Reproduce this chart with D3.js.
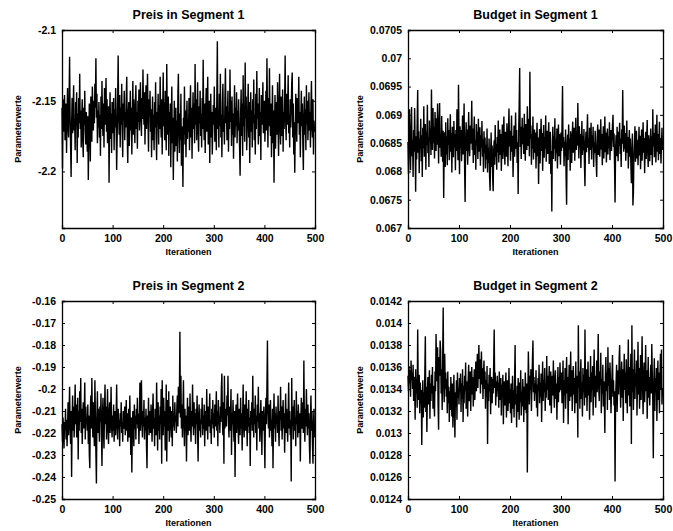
<!DOCTYPE html>
<html>
<head>
<meta charset="utf-8">
<script src="https://cdn.jsdelivr.net/npm/d3@7"></script>
<style>
  body { margin: 0; background: #fff; }
  svg text { font-family: "Liberation Sans", Arial, sans-serif; fill: #000; }
</style>
</head>
<body>
<script>
// MCMC traces, 500 iterations each
var preis1 = [
-2.155,-2.198,-2.149,-2.172,-2.160,-2.146,-2.178,-2.165,-2.152,-2.187,-2.158,-2.141,-2.169,-2.176,-2.150,-2.119,-2.161,-2.182,-2.204,-2.167,-2.148,-2.173,-2.156,-2.139,-2.171,
-2.163,-2.185,-2.151,-2.168,-2.144,-2.194,-2.159,-2.176,-2.148,-2.166,-2.131,-2.170,-2.157,-2.183,-2.162,-2.149,-2.178,-2.190,-2.155,-2.167,-2.143,-2.172,-2.181,-2.158,-2.165,
-2.186,-2.161,-2.206,-2.174,-2.152,-2.168,-2.193,-2.147,-2.163,-2.179,-2.140,-2.158,-2.171,-2.150,-2.166,-2.138,-2.155,-2.120,-2.162,-2.145,-2.180,-2.157,-2.169,-2.151,-2.176,
-2.160,-2.189,-2.147,-2.170,-2.136,-2.164,-2.175,-2.152,-2.183,-2.141,-2.167,-2.158,-2.134,-2.172,-2.149,-2.180,-2.163,-2.154,-2.208,-2.166,-2.144,-2.177,-2.159,-2.187,-2.151,
-2.162,-2.173,-2.148,-2.185,-2.156,-2.169,-2.141,-2.165,-2.199,-2.177,-2.150,-2.118,-2.160,-2.174,-2.146,-2.183,-2.155,-2.167,-2.138,-2.171,-2.190,-2.152,-2.164,-2.143,-2.178,
-2.158,-2.169,-2.147,-2.133,-2.176,-2.194,-2.160,-2.151,-2.182,-2.166,-2.143,-2.171,-2.155,-2.188,-2.162,-2.136,-2.174,-2.149,-2.167,-2.180,-2.153,-2.139,-2.170,-2.158,-2.184,
-2.150,-2.165,-2.142,-2.171,-2.156,-2.137,-2.160,-2.175,-2.148,-2.163,-2.128,-2.154,-2.167,-2.144,-2.181,-2.158,-2.139,-2.170,-2.152,-2.131,-2.164,-2.186,-2.149,-2.161,-2.143,
-2.172,-2.156,-2.190,-2.163,-2.147,-2.178,-2.160,-2.185,-2.151,-2.169,-2.137,-2.174,-2.192,-2.158,-2.166,-2.145,-2.181,-2.153,-2.170,-2.133,-2.162,-2.176,-2.149,-2.188,-2.159,
-2.130,-2.168,-2.151,-2.178,-2.143,-2.163,-2.185,-2.124,-2.160,-2.174,-2.147,-2.189,-2.158,-2.171,-2.152,-2.197,-2.166,-2.140,-2.180,-2.162,-2.206,-2.175,-2.150,-2.186,-2.168,
-2.155,-2.182,-2.164,-2.193,-2.147,-2.131,-2.172,-2.187,-2.159,-2.178,-2.145,-2.196,-2.168,-2.183,-2.211,-2.162,-2.174,-2.140,-2.181,-2.157,-2.190,-2.166,-2.150,-2.177,-2.163,
-2.172,-2.148,-2.185,-2.160,-2.139,-2.176,-2.155,-2.191,-2.163,-2.144,-2.170,-2.152,-2.180,-2.124,-2.167,-2.149,-2.178,-2.158,-2.137,-2.173,-2.186,-2.154,-2.166,-2.143,-2.175,
-2.159,-2.183,-2.148,-2.170,-2.121,-2.163,-2.178,-2.152,-2.187,-2.160,-2.141,-2.172,-2.155,-2.133,-2.181,-2.166,-2.150,-2.194,-2.162,-2.145,-2.176,-2.158,-2.188,-2.169,-2.153,
-2.167,-2.140,-2.179,-2.155,-2.162,-2.185,-2.148,-2.108,-2.170,-2.157,-2.183,-2.145,-2.168,-2.131,-2.176,-2.160,-2.190,-2.152,-2.138,-2.172,-2.164,-2.181,-2.149,-2.127,-2.166,
-2.154,-2.178,-2.161,-2.143,-2.186,-2.158,-2.170,-2.128,-2.165,-2.150,-2.182,-2.147,-2.174,-2.159,-2.191,-2.163,-2.139,-2.176,-2.155,-2.168,-2.144,-2.180,-2.157,-2.171,-2.149,
-2.166,-2.184,-2.203,-2.160,-2.142,-2.175,-2.152,-2.189,-2.132,-2.168,-2.155,-2.179,-2.123,-2.163,-2.147,-2.185,-2.170,-2.158,-2.138,-2.176,-2.151,-2.194,-2.165,-2.144,-2.172,
-2.157,-2.183,-2.149,-2.166,-2.135,-2.178,-2.160,-2.188,-2.145,-2.170,-2.129,-2.163,-2.152,-2.181,-2.168,-2.141,-2.175,-2.158,-2.192,-2.146,-2.167,-2.154,-2.137,-2.173,-2.162,
-2.150,-2.179,-2.165,-2.143,-2.171,-2.120,-2.158,-2.183,-2.148,-2.168,-2.127,-2.161,-2.175,-2.152,-2.190,-2.166,-2.139,-2.180,-2.157,-2.208,-2.170,-2.146,-2.184,-2.162,-2.151,
-2.174,-2.137,-2.166,-2.189,-2.153,-2.131,-2.168,-2.181,-2.147,-2.162,-2.175,-2.142,-2.186,-2.158,-2.170,-2.150,-2.118,-2.163,-2.178,-2.145,-2.167,-2.155,-2.132,-2.173,-2.160,
-2.183,-2.149,-2.169,-2.157,-2.138,-2.130,-2.176,-2.152,-2.188,-2.165,-2.201,-2.171,-2.145,-2.160,-2.179,-2.148,-2.166,-2.154,-2.133,-2.174,-2.158,-2.190,-2.163,-2.143,-2.168,
-2.152,-2.181,-2.199,-2.161,-2.147,-2.174,-2.156,-2.185,-2.139,-2.167,-2.150,-2.178,-2.162,-2.144,-2.171,-2.158,-2.183,-2.153,-2.136,-2.169,-2.176,-2.149,-2.188,-2.164,-2.172
];

var budget1 = [
0.06852,0.06795,0.06881,0.06910,0.06838,0.06802,0.06869,0.06914,0.06827,0.06856,0.06790,0.06873,0.06835,0.06912,0.06848,0.06764,0.06862,0.06821,0.06887,0.06944,0.06833,0.06871,0.06797,0.06858,0.06840,
0.06893,0.06818,0.06864,0.06790,0.06877,0.06841,0.06915,0.06826,0.06859,0.06884,0.06803,0.06870,0.06847,0.06918,0.06832,0.06861,0.06808,0.06890,0.06853,0.06876,0.06829,0.06945,0.06866,0.06838,0.06912,
0.06850,0.06879,0.06823,0.06905,0.06861,0.06836,0.06894,0.06847,0.06920,0.06871,0.06814,0.06883,0.06921,0.06842,0.06866,0.06826,0.06898,0.06855,0.06817,0.06872,0.06753,0.06845,0.06869,0.06808,0.06887,
0.06830,0.06862,0.06811,0.06894,0.06847,0.06873,0.06820,0.06856,0.06901,0.06835,0.06868,0.06798,0.06879,0.06852,0.06825,0.06889,0.06843,0.06866,0.06802,0.06873,0.06836,0.06910,0.06857,0.06820,0.06953,
0.06862,0.06795,0.06880,0.06841,0.06873,0.06818,0.06855,0.06899,0.06830,0.06866,0.06920,0.06808,0.06746,0.06851,0.06887,0.06836,0.06874,0.06812,0.06859,0.06905,0.06843,0.06827,0.06881,0.06849,0.06868,
0.06925,0.06838,0.06876,0.06815,0.06862,0.06897,0.06829,0.06855,0.06803,0.06884,0.06846,0.06870,0.06822,0.06893,0.06851,0.06835,0.06878,0.06810,0.06864,0.06842,0.06889,0.06826,0.06857,0.06799,0.06871,
0.06833,0.06860,0.06805,0.06847,0.06821,0.06876,0.06798,0.06842,0.06815,0.06858,0.06790,0.06766,0.06830,0.06869,0.06808,0.06846,0.06788,0.06765,0.06837,0.06855,0.06812,0.06882,0.06826,0.06849,0.06803,
0.06861,0.06834,0.06890,0.06816,0.06852,0.06874,0.06829,0.06866,0.06801,0.06845,0.06883,0.06822,0.06859,0.06897,0.06838,0.06812,0.06870,0.06848,0.06826,0.06885,0.06853,0.06809,0.06868,0.06911,0.06844,
0.06872,0.06819,0.06856,0.06899,0.06835,0.06863,0.06790,0.06847,0.06881,0.06826,0.06858,0.06904,0.06840,0.06873,0.06815,0.06852,0.06760,0.06868,0.06917,0.06983,0.06843,0.06879,0.06822,0.06861,0.06895,
0.06848,0.06877,0.06831,0.06902,0.06856,0.06819,0.06884,0.06862,0.06838,0.06915,0.06870,0.06845,0.06893,0.06827,0.06976,0.06858,0.06881,0.06812,0.06866,0.06840,0.06897,0.06821,0.06855,0.06874,0.06833,
0.06869,0.06805,0.06851,0.06886,0.06827,0.06860,0.06778,0.06842,0.06875,0.06814,0.06856,0.06893,0.06836,0.06868,0.06801,0.06849,0.06882,0.06824,0.06861,0.06840,0.06899,0.06817,0.06853,0.06872,0.06831,
0.06858,0.06887,0.06813,0.06845,0.06870,0.06796,0.06836,0.06729,0.06851,0.06879,0.06822,0.06863,0.06840,0.06894,0.06818,0.06857,0.06832,0.06876,0.06805,0.06848,0.06883,0.06827,0.06866,0.06845,0.06812,
0.06869,0.06836,0.06880,0.06951,0.06842,0.06861,0.06809,0.06853,0.06827,0.06874,0.06790,0.06741,0.06848,0.06865,0.06820,0.06883,0.06839,0.06858,0.06801,0.06871,0.06846,0.06815,0.06862,0.06888,0.06833,
0.06850,0.06877,0.06819,0.06862,0.06895,0.06838,0.06871,0.06846,0.06921,0.06857,0.06823,0.06880,0.06841,0.06866,0.06806,0.06852,0.06889,0.06829,0.06863,0.06837,0.06875,0.06812,0.06774,0.06849,0.06870,
0.06834,0.06868,0.06901,0.06842,0.06859,0.06813,0.06877,0.06838,0.06855,0.06886,0.06821,0.06864,0.06843,0.06879,0.06808,0.06851,0.06832,0.06872,0.06846,0.06817,0.06790,0.06861,0.06883,0.06829,0.06857,
0.06874,0.06826,0.06853,0.06892,0.06839,0.06866,0.06811,0.06847,0.06880,0.06823,0.06858,0.06897,0.06834,0.06869,0.06816,0.06852,0.06876,0.06830,0.06862,0.06841,0.06887,0.06820,0.06855,0.06873,0.06836,
0.06859,0.06882,0.06900,0.06843,0.06867,0.06812,0.06745,0.06838,0.06864,0.06827,0.06879,0.06851,0.06818,0.06870,0.06845,0.06886,0.06831,0.06858,0.06808,0.06874,0.06849,0.06944,0.06862,0.06835,0.06881,
0.06840,0.06868,0.06819,0.06855,0.06890,0.06833,0.06861,0.06805,0.06847,0.06873,0.06826,0.06858,0.06812,0.06779,0.06836,0.06867,0.06740,0.06763,0.06829,0.06851,0.06880,0.06817,0.06844,0.06872,0.06823,
0.06856,0.06811,0.06846,0.06879,0.06828,0.06863,0.06804,0.06840,0.06874,0.06819,0.06852,0.06887,0.06833,0.06859,0.06797,0.06845,0.06870,0.06822,0.06856,0.06891,0.06836,0.06808,0.06864,0.06843,0.06818,
0.06850,0.06876,0.06829,0.06862,0.06811,0.06910,0.06844,0.06868,0.06825,0.06857,0.06883,0.06816,0.06849,0.06900,0.06835,0.06866,0.06820,0.06853,0.06888,0.06831,0.06859,0.06814,0.06846,0.06877,0.06838
];

var preis2 = [
-0.216,-0.224,-0.213,-0.221,-0.227,-0.215,-0.219,-0.209,-0.223,-0.214,-0.226,-0.218,-0.206,-0.221,-0.212,-0.199,-0.217,-0.225,-0.210,-0.240,-0.214,-0.203,-0.219,-0.208,-0.222,
-0.211,-0.198,-0.216,-0.207,-0.222,-0.213,-0.204,-0.232,-0.210,-0.219,-0.201,-0.215,-0.195,-0.220,-0.209,-0.225,-0.213,-0.206,-0.218,-0.211,-0.197,-0.223,-0.208,-0.216,-0.214,
-0.219,-0.207,-0.225,-0.212,-0.230,-0.236,-0.210,-0.203,-0.218,-0.195,-0.214,-0.222,-0.206,-0.217,-0.226,-0.196,-0.211,-0.229,-0.243,-0.213,-0.201,-0.220,-0.209,-0.216,-0.224,
-0.208,-0.215,-0.202,-0.221,-0.235,-0.212,-0.204,-0.219,-0.227,-0.210,-0.198,-0.216,-0.208,-0.223,-0.213,-0.200,-0.218,-0.225,-0.211,-0.206,-0.220,-0.214,-0.199,-0.217,-0.222,
-0.212,-0.219,-0.207,-0.224,-0.215,-0.210,-0.221,-0.213,-0.198,-0.216,-0.223,-0.209,-0.218,-0.214,-0.226,-0.211,-0.217,-0.206,-0.220,-0.215,-0.224,-0.210,-0.218,-0.213,-0.208,
-0.221,-0.214,-0.205,-0.219,-0.211,-0.224,-0.216,-0.209,-0.222,-0.203,-0.217,-0.230,-0.213,-0.238,-0.220,-0.210,-0.215,-0.226,-0.207,-0.218,-0.212,-0.223,-0.209,-0.216,-0.204,
-0.218,-0.211,-0.225,-0.214,-0.197,-0.219,-0.208,-0.196,-0.215,-0.222,-0.210,-0.217,-0.205,-0.223,-0.213,-0.219,-0.209,-0.226,-0.236,-0.212,-0.218,-0.204,-0.221,-0.214,-0.210,
-0.220,-0.207,-0.216,-0.224,-0.211,-0.202,-0.218,-0.213,-0.226,-0.209,-0.215,-0.221,-0.197,-0.214,-0.228,-0.206,-0.219,-0.212,-0.223,-0.208,-0.216,-0.200,-0.234,-0.196,-0.213,
-0.221,-0.204,-0.217,-0.210,-0.228,-0.215,-0.198,-0.233,-0.212,-0.205,-0.219,-0.201,-0.224,-0.213,-0.208,-0.216,-0.222,-0.210,-0.226,-0.203,-0.217,-0.211,-0.219,-0.206,-0.215,
-0.212,-0.220,-0.208,-0.203,-0.217,-0.199,-0.211,-0.205,-0.174,-0.213,-0.194,-0.218,-0.207,-0.222,-0.210,-0.196,-0.215,-0.226,-0.209,-0.219,-0.212,-0.233,-0.216,-0.204,-0.221,
-0.213,-0.208,-0.219,-0.202,-0.215,-0.224,-0.210,-0.217,-0.198,-0.214,-0.221,-0.206,-0.218,-0.211,-0.225,-0.209,-0.216,-0.203,-0.220,-0.233,-0.212,-0.207,-0.219,-0.214,-0.222,
-0.209,-0.216,-0.204,-0.221,-0.212,-0.218,-0.207,-0.226,-0.213,-0.210,-0.219,-0.200,-0.215,-0.223,-0.208,-0.217,-0.212,-0.202,-0.220,-0.214,-0.225,-0.209,-0.216,-0.205,-0.218,
-0.211,-0.222,-0.207,-0.217,-0.213,-0.201,-0.219,-0.210,-0.226,-0.205,-0.216,-0.212,-0.220,-0.208,-0.215,-0.199,-0.193,-0.214,-0.221,-0.206,-0.234,-0.194,-0.218,-0.211,-0.209,
-0.217,-0.203,-0.212,-0.194,-0.215,-0.222,-0.208,-0.219,-0.213,-0.200,-0.230,-0.211,-0.216,-0.205,-0.218,-0.224,-0.210,-0.240,-0.214,-0.207,-0.220,-0.212,-0.202,-0.217,-0.225,
-0.209,-0.215,-0.221,-0.204,-0.218,-0.211,-0.228,-0.213,-0.198,-0.216,-0.222,-0.207,-0.214,-0.219,-0.201,-0.212,-0.226,-0.209,-0.217,-0.205,-0.220,-0.213,-0.235,-0.210,-0.216,
-0.206,-0.219,-0.194,-0.214,-0.222,-0.209,-0.216,-0.203,-0.220,-0.212,-0.228,-0.207,-0.215,-0.199,-0.218,-0.211,-0.224,-0.213,-0.205,-0.217,-0.230,-0.210,-0.219,-0.214,-0.208,
-0.221,-0.236,-0.213,-0.204,-0.216,-0.199,-0.178,-0.210,-0.218,-0.207,-0.222,-0.212,-0.205,-0.219,-0.214,-0.226,-0.209,-0.236,-0.215,-0.202,-0.218,-0.211,-0.224,-0.208,-0.216,
-0.212,-0.220,-0.203,-0.217,-0.226,-0.210,-0.214,-0.199,-0.219,-0.208,-0.223,-0.213,-0.205,-0.218,-0.211,-0.229,-0.215,-0.202,-0.220,-0.209,-0.216,-0.224,-0.212,-0.197,-0.218,
-0.210,-0.221,-0.214,-0.242,-0.195,-0.217,-0.208,-0.223,-0.212,-0.205,-0.219,-0.213,-0.226,-0.201,-0.216,-0.210,-0.222,-0.207,-0.215,-0.220,-0.211,-0.233,-0.214,-0.204,-0.218,
-0.212,-0.206,-0.220,-0.187,-0.215,-0.224,-0.209,-0.217,-0.200,-0.213,-0.221,-0.207,-0.218,-0.211,-0.226,-0.234,-0.214,-0.203,-0.219,-0.210,-0.225,-0.234,-0.216,-0.209,-0.222
];

var budget2 = [
0.01352,0.01338,0.01361,0.01345,0.01357,0.01333,0.01366,0.01348,0.01355,0.01340,0.01362,0.01329,0.01351,0.01344,0.01312,0.01358,0.01336,0.01349,0.01323,0.01394,0.01341,0.01330,0.01353,0.01318,0.01346,
0.01327,0.01339,0.01289,0.01332,0.01348,0.01314,0.01337,0.01323,0.01355,0.01388,0.01319,0.01342,0.01301,0.01334,0.01351,0.01326,0.01340,0.01357,0.01313,0.01345,0.01329,0.01353,0.01336,0.01360,0.01322,
0.01343,0.01331,0.01315,0.01356,0.01338,0.01390,0.01362,0.01347,0.01378,0.01325,0.01303,0.01369,0.01352,0.01384,0.01375,0.01336,0.01358,0.01321,0.01367,0.01414,0.01344,0.01328,0.01372,0.01340,0.01355,
0.01333,0.01349,0.01318,0.01356,0.01327,0.01342,0.01310,0.01338,0.01321,0.01351,0.01334,0.01315,0.01345,0.01305,0.01330,0.01353,0.01319,0.01296,0.01337,0.01324,0.01348,0.01312,0.01355,0.01332,0.01341,
0.01326,0.01350,0.01337,0.01354,0.01319,0.01345,0.01331,0.01358,0.01310,0.01343,0.01327,0.01352,0.01338,0.01364,0.01322,0.01347,0.01334,0.01315,0.01349,0.01362,0.01329,0.01341,0.01356,0.01320,0.01346,
0.01360,0.01335,0.01351,0.01324,0.01343,0.01358,0.01330,0.01347,0.01365,0.01338,0.01354,0.01372,0.01341,0.01361,0.01380,0.01349,0.01367,0.01336,0.01357,0.01374,0.01344,0.01359,0.01331,0.01352,0.01366,
0.01340,0.01356,0.01322,0.01348,0.01333,0.01361,0.01290,0.01345,0.01329,0.01353,0.01338,0.01359,0.01317,0.01344,0.01351,0.01327,0.01349,0.01336,0.01362,0.01394,0.01341,0.01355,0.01325,0.01347,0.01333,
0.01352,0.01338,0.01346,0.01323,0.01356,0.01341,0.01330,0.01350,0.01316,0.01344,0.01335,0.01353,0.01308,0.01339,0.01347,0.01325,0.01342,0.01355,0.01314,0.01337,0.01348,0.01320,0.01333,0.01359,0.01327,
0.01340,0.01318,0.01345,0.01309,0.01334,0.01352,0.01322,0.01339,0.01314,0.01348,0.01380,0.01326,0.01336,0.01305,0.01343,0.01319,0.01350,0.01331,0.01312,0.01346,0.01328,0.01357,0.01316,0.01338,0.01324,
0.01349,0.01333,0.01310,0.01342,0.01321,0.01355,0.01336,0.01318,0.01345,0.01264,0.01330,0.01374,0.01348,0.01326,0.01352,0.01339,0.01358,0.01320,0.01343,0.01366,0.01384,0.01337,0.01351,0.01329,0.01345,
0.01336,0.01357,0.01323,0.01344,0.01315,0.01350,0.01338,0.01362,0.01327,0.01346,0.01333,0.01354,0.01310,0.01341,0.01365,0.01329,0.01348,0.01337,0.01359,0.01320,0.01345,0.01332,0.01370,0.01339,0.01352,
0.01330,0.01347,0.01361,0.01325,0.01343,0.01356,0.01318,0.01340,0.01352,0.01334,0.01366,0.01339,0.01323,0.01349,0.01357,0.01331,0.01345,0.01312,0.01342,0.01360,0.01328,0.01351,0.01337,0.01364,0.01346,
0.01339,0.01355,0.01327,0.01343,0.01366,0.01309,0.01348,0.01334,0.01359,0.01322,0.01345,0.01369,0.01336,0.01351,0.01308,0.01340,0.01362,0.01329,0.01346,0.01374,0.01333,0.01357,0.01320,0.01344,0.01361,
0.01335,0.01350,0.01318,0.01343,0.01365,0.01327,0.01352,0.01338,0.01296,0.01398,0.01341,0.01356,0.01322,0.01349,0.01367,0.01331,0.01346,0.01315,0.01359,0.01337,0.01353,0.01325,0.01394,0.01344,0.01332,
0.01358,0.01320,0.01347,0.01365,0.01334,0.01351,0.01312,0.01343,0.01370,0.01328,0.01355,0.01339,0.01361,0.01316,0.01348,0.01376,0.01333,0.01352,0.01323,0.01345,0.01366,0.01337,0.01358,0.01390,0.01341,
0.01329,0.01356,0.01344,0.01373,0.01318,0.01349,0.01336,0.01362,0.01324,0.01347,0.01331,0.01300,0.01352,0.01369,0.01338,0.01355,0.01321,0.01378,0.01343,0.01359,0.01330,0.01364,0.01347,0.01318,0.01336,
0.01352,0.01371,0.01333,0.01348,0.01325,0.01338,0.01256,0.01330,0.01346,0.01362,0.01319,0.01341,0.01357,0.01335,0.01368,0.01380,0.01344,0.01323,0.01350,0.01365,0.01332,0.01358,0.01311,0.01347,0.01372,
0.01339,0.01355,0.01327,0.01367,0.01343,0.01318,0.01351,0.01385,0.01334,0.01360,0.01324,0.01346,0.01372,0.01290,0.01398,0.01337,0.01358,0.01321,0.01349,0.01376,0.01331,0.01354,0.01343,0.01366,0.01316,
0.01348,0.01383,0.01335,0.01359,0.01322,0.01345,0.01371,0.01330,0.01356,0.01388,0.01341,0.01317,0.01352,0.01364,0.01328,0.01346,0.01380,0.01338,0.01357,0.01313,0.01343,0.01369,0.01332,0.01351,0.01325,
0.01347,0.01362,0.01336,0.01381,0.01354,0.01329,0.01277,0.01345,0.01368,0.01320,0.01350,0.01337,0.01359,0.01311,0.01343,0.01366,0.01330,0.01355,0.01318,0.01348,0.01372,0.01339,0.01376,0.01326,0.01341
];

// axis ticks / limits
var xTicks = [0, 100, 200, 300, 400, 500];
var preis1Ticks = [-2.2, -2.15, -2.1];
var budget1Ticks = [0.067, 0.0675, 0.068, 0.0685, 0.069, 0.0695, 0.07, 0.0705];
var preis2Ticks = [-0.25, -0.24, -0.23, -0.22, -0.21, -0.2, -0.19, -0.18, -0.17, -0.16];
var budget2Ticks = [0.0124, 0.0126, 0.0128, 0.013, 0.0132, 0.0134, 0.0136, 0.0138, 0.014, 0.0142];
var titles = ["Preis in Segment 1", "Budget in Segment 1", "Preis in Segment 2", "Budget in Segment 2"];

var panels = [
    {title: titles[0], values: preis1, ylim: [-2.24, -2.1], yTicks: preis1Ticks, left: 62, top: 30, w: 253},
    {title: titles[1], values: budget1, ylim: [0.067, 0.0705], yTicks: budget1Ticks, left: 408, top: 30, w: 255},
    {title: titles[2], values: preis2, ylim: [-0.25, -0.16], yTicks: preis2Ticks, left: 62, top: 301, w: 253},
    {title: titles[3], values: budget2, ylim: [0.0124, 0.0142], yTicks: budget2Ticks, left: 408, top: 301, w: 255}
];
var H = 198;

var svg = d3.select("body").append("svg")
    .attr("width", 673).attr("height", 531);
svg.append("rect").attr("width", 673).attr("height", 531).attr("fill", "#fff");

var fmt = function(d) { return String(+d.toFixed(6)); };

panels.forEach(function(p) {
    var g = svg.append("g").attr("transform", "translate(" + p.left + "," + p.top + ")");
    var x = d3.scaleLinear().domain([0, 500]).range([0, p.w]);
    var y = d3.scaleLinear().domain(p.ylim).range([H, 0]);

    g.append("path")
        .datum(p.values)
        .attr("fill", "none").attr("stroke", "#000").attr("stroke-width", 1.4)
        .attr("d", d3.line().x(function(d, i) { return x(i); }).y(function(d) { return y(d); }));

    // MATLAB style boxed axes, ticks pointing inward on all four sides
    g.append("g").attr("transform", "translate(0," + H + ")")
        .call(d3.axisBottom(x).tickValues(xTicks).tickSize(-3).tickPadding(7).tickFormat(fmt));
    g.append("g")
        .call(d3.axisTop(x).tickValues(xTicks).tickSize(-3).tickFormat(""));
    g.append("g")
        .call(d3.axisLeft(y).tickValues(p.yTicks).tickSize(-3).tickPadding(6).tickFormat(fmt));
    g.append("g").attr("transform", "translate(" + p.w + ",0)")
        .call(d3.axisRight(y).tickValues(p.yTicks).tickSize(-3).tickFormat(""));

    g.selectAll(".domain").attr("stroke", "#000").attr("stroke-width", 1.3);
    g.selectAll(".tick line").attr("stroke", "#000");
    g.selectAll(".tick text")
        .style("font-size", "10.5px").style("font-weight", "bold")
        .style("font-family", "'Liberation Sans', Arial, sans-serif");

    g.append("text")
        .attr("x", p.w / 2).attr("y", -11)
        .attr("text-anchor", "middle")
        .style("font-size", "12.5px").style("font-weight", "bold")
        .text(p.title);

    g.append("text")
        .attr("x", p.w / 2).attr("y", H + 27)
        .attr("text-anchor", "middle")
        .style("font-size", "9px").style("font-weight", "bold")
        .text("Iterationen");

    g.append("text")
        .attr("transform", "translate(" + (p.left === 62 ? -41 : -45) + "," + (H / 2) + ") rotate(-90)")
        .attr("text-anchor", "middle")
        .style("font-size", "9px").style("font-weight", "bold")
        .text("Parameterwerte");
});
</script>
</body>
</html>
